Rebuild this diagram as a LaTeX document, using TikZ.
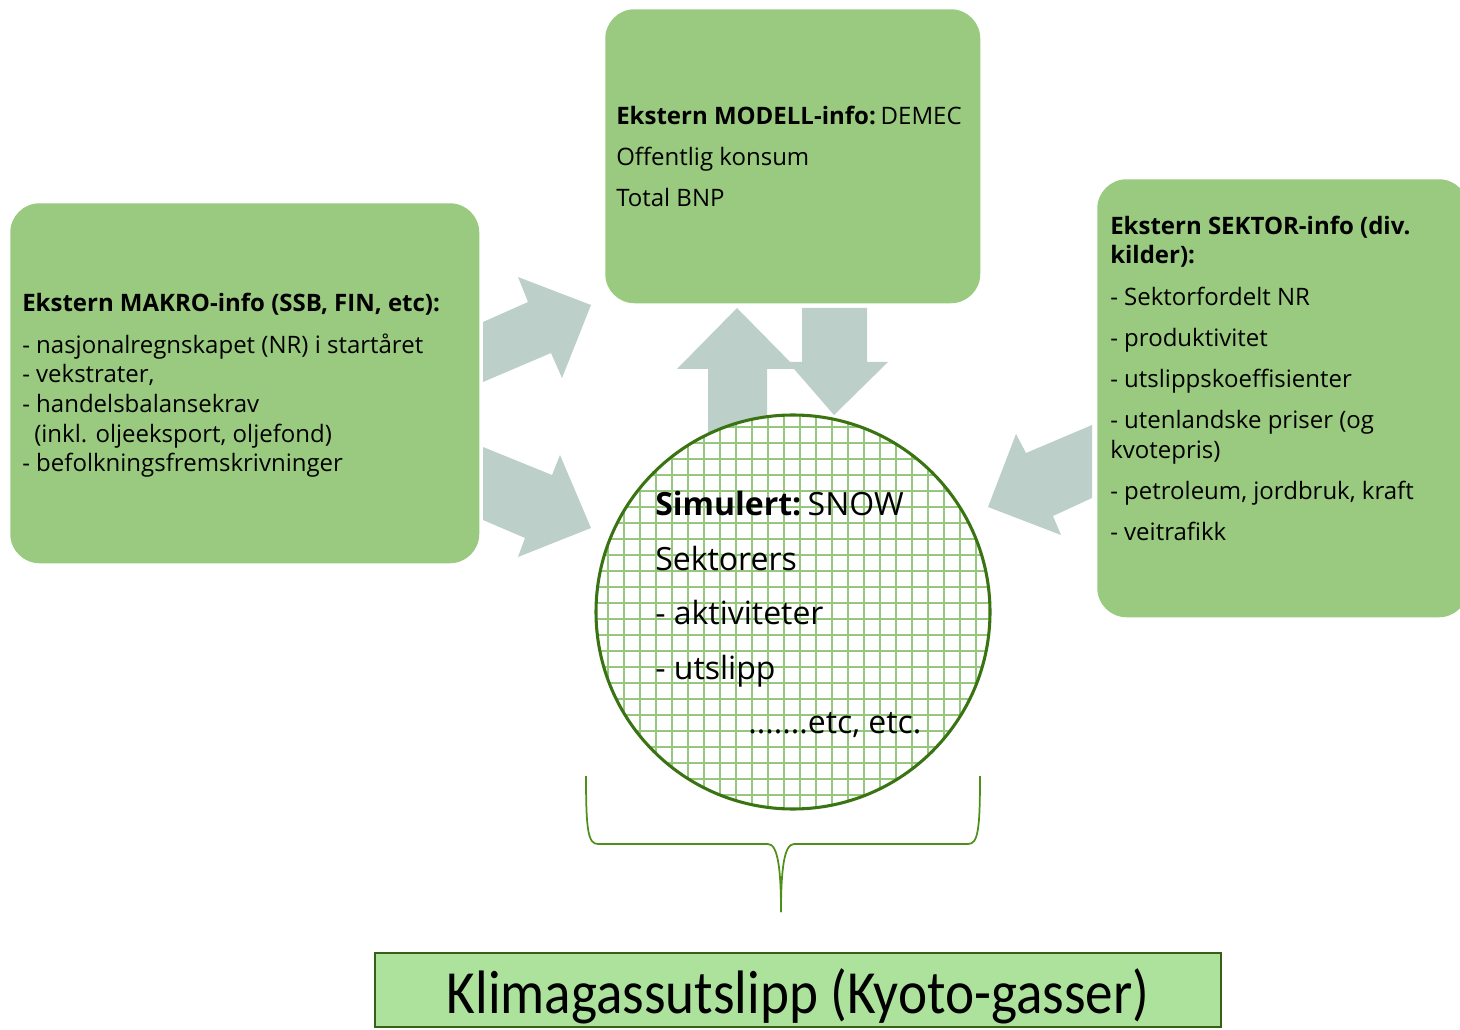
\documentclass[tikz,border=0pt]{standalone}
\usepackage{fontspec}
\setmainfont{Open Sans}
\newfontfamily\klimafont[FakeStretch=0.9]{Carlito}
\definecolor{boxgreen}{HTML}{9ACA7F}
\definecolor{arrowgrey}{HTML}{BCCFC9}
\definecolor{gridgreen}{HTML}{96C77E}
\definecolor{ringgreen}{HTML}{3A7412}
\definecolor{bracegreen}{HTML}{4E8F1A}
\definecolor{resultfill}{HTML}{ADE29C}
\definecolor{resultline}{HTML}{385F16}
\tikzset{
  infobox/.style={fill=boxgreen, draw=none, rounded corners=22pt, anchor=north west, inner sep=0pt},
  blockarrow/.style={fill=arrowgrey, draw=none},
  txt/.style={anchor=base west, inner sep=0pt, font=\fontsize{18}{21}\selectfont},
  boldtxt/.style={txt, font=\fontsize{18}{21}\selectfont\bfseries},
  simtxt/.style={anchor=base west, inner sep=0pt, font=\fontsize{24}{28}\selectfont},
}
\begin{document}
\begin{tikzpicture}[x=0.75pt, y=-0.75pt]
\useasboundingbox (0,0) rectangle (1460,1030);
\clip (0,0) rectangle (1460,1030);

% block arrows towards and from the simulation
\fill[blockarrow] (483,322) -- (528,302) -- (518,277) -- (591,305) -- (562,378) -- (551,353) -- (483,382) -- cycle;
\fill[blockarrow] (483,447) -- (552,475) -- (560,455) -- (591,528) -- (518,557) -- (525,538) -- (483,520) -- cycle;
\fill[blockarrow] (737,308) -- (797,369) -- (767,369) -- (767,470) -- (708,470) -- (708,369) -- (677,369) -- cycle;
\fill[blockarrow] (802,308) -- (867,308) -- (867,362) -- (888,362) -- (834,415) -- (788,362) -- (802,362) -- cycle;
\fill[blockarrow] (1092,425) -- (1092,498) -- (1053,516) -- (1061,535) -- (988,507) -- (1016,434) -- (1026,453) -- cycle;

% information boxes
\node[infobox, minimum width=469*0.75pt, minimum height=360*0.75pt] (makro) at (10,203) {};
\node[infobox, minimum width=375*0.75pt, minimum height=294*0.75pt] (modell) at (605,9) {};
\node[infobox, minimum width=371*0.75pt, minimum height=438*0.75pt] (sektor) at (1097,179) {};

% left box text
\node[boldtxt] (m0) at (22,312) {Ekstern MAKRO-info (SSB, FIN, etc):};
\node[txt] (m1) at (22,354) {- nasjonalregnskapet (NR) i startåret};
\node[txt] (m2) at (22,383) {- vekstrater,};
\node[txt] (m3) at (22,413) {- handelsbalansekrav};
\node[txt] (m4) at (34,442) {(inkl. oljeeksport, oljefond)};
\node[txt] (m5) at (22,471) {- befolkningsfremskrivninger};

% top box text
\node[txt] (d0) at (616,125) {\textbf{Ekstern MODELL-info:}\hspace{0.2em}DEMEC};
\node[txt] (d1) at (616,166) {Offentlig konsum};
\node[txt] (d2) at (616,207) {Total BNP};

% right box text
\node[boldtxt] (s0) at (1110,235) {Ekstern SEKTOR-info (div.};
\node[boldtxt] (s1) at (1110,264) {kilder):};
\node[txt] (s2) at (1110,306) {- Sektorfordelt NR};
\node[txt] (s3) at (1110,347) {- produktivitet};
\node[txt] (s4) at (1110,388) {- utslippskoeffisienter};
\node[txt] (s5) at (1110,429) {- utenlandske priser (og};
\node[txt] (s6) at (1110,458) {kvotepris)};
\node[txt] (s7) at (1110,499) {- petroleum, jordbruk, kraft};
\node[txt] (s8) at (1110,540) {- veitrafikk};

% simulation circle with grid
\node[circle, minimum size=395*0.75pt, inner sep=0pt, fill=white] (snow) at (793,612) {};
\begin{scope}
  \clip (793,612) circle[radius=197*0.75pt];
  \foreach \k in {0,...,26} {
    \draw[gridgreen, line width=1.5pt] (592+\k*16,400) -- (592+\k*16,820);
    \draw[gridgreen, line width=1.5pt] (580,411+\k*16) -- (1000,411+\k*16);
  }
\end{scope}
\draw[ringgreen, line width=2.3pt] (snow.center) circle[radius=197*0.75pt];

\node[simtxt] (c0) at (655,515) {\textbf{Simulert:}\hspace{0.2em}SNOW};
\node[simtxt] (c1) at (655,570) {Sektorers};
\node[simtxt] (c2) at (655,624) {- aktiviteter};
\node[simtxt] (c3) at (655,679) {- utslipp};
\node[simtxt] (c4) at (748,733) {.......etc, etc.};

% brace under the circle
\coordinate (bl) at (586,776);
\coordinate (br) at (980,776);
\coordinate (btip) at (781,912);
\draw[bracegreen, line width=1.3pt]
  (bl) .. controls (586,830) and (588,844) .. (598,844) -- (768,844)
  .. controls (778,844) and (781,870) .. (btip);
\draw[bracegreen, line width=1.3pt]
  (br) .. controls (980,830) and (978,844) .. (968,844) -- (794,844)
  .. controls (784,844) and (781,870) .. (btip);

% result box
\node[draw=resultline, fill=resultfill, line width=2.2pt, minimum width=846*0.75pt, minimum height=74*0.75pt, inner sep=0pt] (klima) at (798,990) {};
\node[inner sep=0pt, font=\klimafont\fontsize{46}{50}\selectfont] (klimatxt) at (798,996) {Klimagassutslipp (Kyoto-gasser)};
\end{tikzpicture}
\end{document}
